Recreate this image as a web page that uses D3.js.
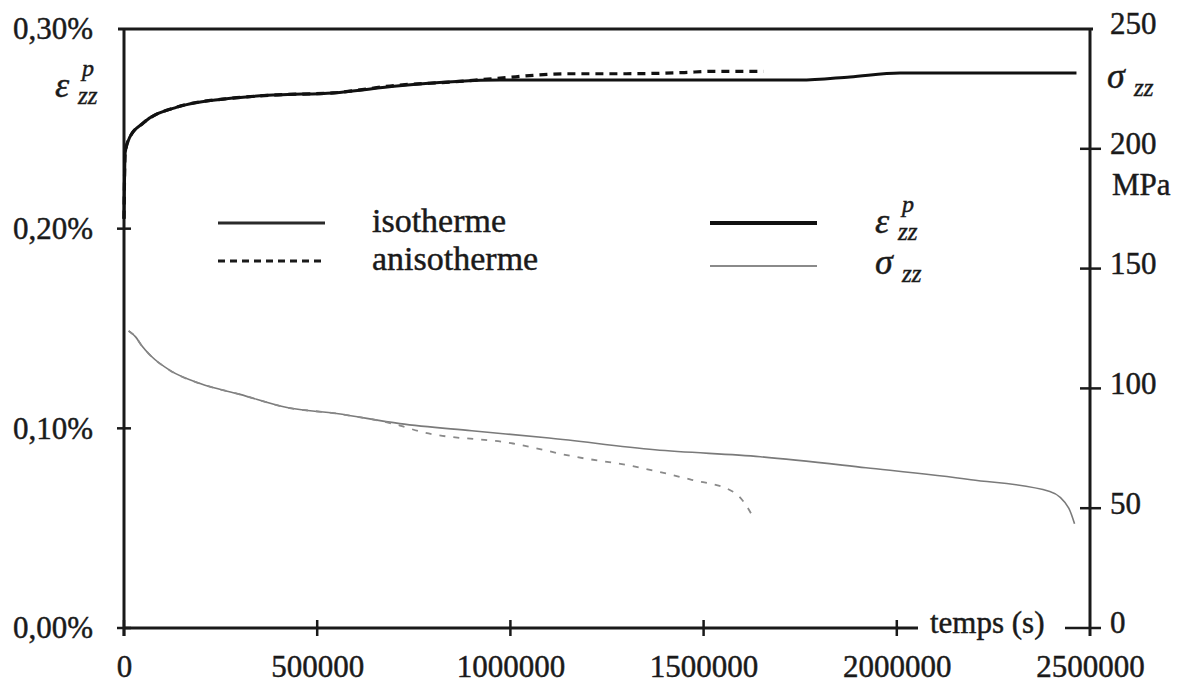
<!DOCTYPE html>
<meta charset="utf-8">
<script src="https://cdn.jsdelivr.net/npm/d3@7"></script>
<style>
  body { margin: 0; background: #fff; }
  svg text {
    font-family: "Liberation Serif", "Times New Roman", "DejaVu Serif", serif;
    fill: #1a1a1a;
    stroke: #1a1a1a;
    stroke-width: 0.45px;
  }
</style>
<div id="chart"></div>
<script>

  // time axis (s)
  var timeTicks = [0, 500000, 1000000, 1500000, 2000000, 2500000];
  var strainTicks = [0, 0.10, 0.20, 0.30];      // %
  var stressTicks = [0, 50, 100, 150, 200, 250]; // MPa

  // plastic strain eps_zz^p (%) - isotherme
  var tIsoStrain = [0, 3000, 15000, 49000, 137000, 282000, 396000, 541000, 706000, 973000, 1300000, 1749000, 1879000, 2008000, 2465000];
  var isoStrain = [0.205, 0.238, 0.2458, 0.2528, 0.2609, 0.2654, 0.267, 0.268, 0.2714, 0.2744, 0.2744, 0.2744, 0.276, 0.278, 0.278];

  // plastic strain (%) - anisotherme
  var tAniStrain = [0, 3000, 15000, 49000, 137000, 282000, 396000, 541000, 706000, 850000, 960000, 1150000, 1300000, 1450000, 1520000, 1655000];
  var aniStrain = [0.205, 0.238, 0.2458, 0.2528, 0.2609, 0.2654, 0.267, 0.268, 0.2718, 0.2735, 0.2752, 0.2776, 0.2776, 0.2782, 0.2788, 0.2788];

  // stress sigma_zz (MPa) - isotherme
  var tIsoStress = [12000, 30000, 45000, 70000, 119000, 197000, 300000, 422000, 550000, 714000, 900000, 1100000, 1374000, 1647000, 1920000, 2192000, 2396000, 2445000, 2460000];
  var isoStress = [124, 121.5, 118, 113.5, 107.5, 102, 97.5, 92, 89.5, 85.3, 82.3, 79.3, 74.4, 71.5, 66.9, 61.9, 57, 50, 43.5];

  // stress (MPa) - anisotherme
  var tAniStress = [12000, 30000, 45000, 70000, 119000, 197000, 300000, 422000, 550000, 714000, 766000, 1007000, 1166000, 1311000, 1465000, 1575000, 1611000, 1632000];
  var aniStress = [124, 121.5, 118, 113.5, 107.5, 102, 97.5, 92, 89.5, 84.5, 82, 77, 71.5, 67.7, 62, 57, 51, 45];

  var W = 1185, H = 686;
  var fs = 31;

  var svg = d3.select("#chart").append("svg")
    .attr("width", W)
    .attr("height", H);

  var x = d3.scaleLinear().domain([0, 2500000]).range([124, 1090]);
  var yL = d3.scaleLinear().domain([0, 0.30]).range([628, 29]);
  var yR = d3.scaleLinear().domain([0, 250]).range([628, 29]);

  var fr = d3.formatLocale({ decimal: ",", thousands: "", grouping: [3], currency: ["", ""] });
  var pct = fr.format(".2f");

  // axes (labels only, the lines are drawn below)
  var axL = svg.append("g").attr("transform", "translate(124,0)")
    .call(d3.axisLeft(yL).tickValues(strainTicks).tickSize(0).tickPadding(31)
      .tickFormat(function (d) { return pct(d) + "%"; }));
  var axR = svg.append("g").attr("transform", "translate(1090,0)")
    .call(d3.axisRight(yR).tickValues(stressTicks).tickSize(0).tickPadding(20));
  var axB = svg.append("g").attr("transform", "translate(0,628)")
    .call(d3.axisBottom(x).tickValues(timeTicks).tickSize(0).tickPadding(27)
      .tickFormat(d3.format("d")));

  svg.selectAll(".domain").remove();
  svg.selectAll(".tick text")
    .attr("font-size", fs)
    .attr("fill", "#1a1a1a");
  axR.selectAll(".tick text").attr("dy", "0.16em");

  var ink = "#1a1a1a";

  // frame lines
  svg.append("line").attr("x1", 118).attr("x2", 1093).attr("y1", yL(0.30)).attr("y2", yL(0.30))
    .attr("stroke", ink).attr("stroke-width", 3);
  svg.append("line").attr("x1", x(0)).attr("x2", x(0)).attr("y1", 29).attr("y2", 636)
    .attr("stroke", ink).attr("stroke-width", 3);
  svg.append("line").attr("x1", x(2500000)).attr("x2", x(2500000)).attr("y1", 29).attr("y2", 636)
    .attr("stroke", ink).attr("stroke-width", 3);
  svg.append("line").attr("x1", x(0)).attr("x2", 918).attr("y1", yL(0)).attr("y2", yL(0))
    .attr("stroke", ink).attr("stroke-width", 3);

  // cross ticks
  svg.append("g").selectAll("line")
    .data(strainTicks.slice(0, 3))
    .enter().append("line")
    .attr("x1", 117).attr("x2", 131)
    .attr("y1", function (d) { return yL(d); }).attr("y2", function (d) { return yL(d); })
    .attr("stroke", ink).attr("stroke-width", 2.5);

  svg.append("g").selectAll("line")
    .data(timeTicks.slice(0, 5))
    .enter().append("line")
    .attr("x1", function (d) { return x(d); }).attr("x2", function (d) { return x(d); })
    .attr("y1", 620).attr("y2", 636)
    .attr("stroke", ink).attr("stroke-width", 2.5);

  svg.append("g").selectAll("line")
    .data(stressTicks.slice(0, 5))
    .enter().append("line")
    .attr("x1", function (d) { return d === 0 ? 1065 : 1080; }).attr("x2", 1101)
    .attr("y1", function (d) { return yR(d); }).attr("y2", function (d) { return yR(d); })
    .attr("stroke", ink).attr("stroke-width", 2.5);

  // curves
  function pts(t, v) { return t.map(function (d, i) { return [d, v[i]]; }); }

  var lineL = d3.line()
    .x(function (d) { return x(d[0]); })
    .y(function (d) { return yL(d[1]); })
    .curve(d3.curveMonotoneX);
  var lineR = d3.line()
    .x(function (d) { return x(d[0]); })
    .y(function (d) { return yR(d[1]); })
    .curve(d3.curveMonotoneX);

  svg.append("path").datum(pts(tIsoStress, isoStress))
    .attr("d", lineR).attr("fill", "none")
    .attr("stroke", "#7a7a7a").attr("stroke-width", 1.6);
  svg.append("path").datum(pts(tAniStress, aniStress))
    .attr("d", lineR).attr("fill", "none")
    .attr("stroke", "#8a8a8a").attr("stroke-width", 1.8)
    .attr("stroke-dasharray", "6,8");

  svg.append("path").datum(pts(tAniStrain, aniStrain))
    .attr("d", lineL).attr("fill", "none")
    .attr("stroke", "#111").attr("stroke-width", 3.2)
    .attr("stroke-dasharray", "8,6");
  svg.append("path").datum(pts(tIsoStrain, isoStrain))
    .attr("d", lineL).attr("fill", "none")
    .attr("stroke", "#111").attr("stroke-width", 3);

  // legend
  var legend = [
    { x1: 218, x2: 325, y: 223, w: 3, c: "#2a2a2a", dash: null, label: "isotherme", ly: 232 },
    { x1: 218, x2: 325, y: 261, w: 3, c: "#1a1a1a", dash: "7,5", label: "anisotherme", ly: 270 },
    { x1: 710, x2: 817, y: 223, w: 4, c: "#111", dash: null },
    { x1: 710, x2: 817, y: 266, w: 2, c: "#8a8a8a", dash: null }
  ];
  svg.append("g").selectAll("line")
    .data(legend)
    .enter().append("line")
    .attr("x1", function (d) { return d.x1; }).attr("x2", function (d) { return d.x2; })
    .attr("y1", function (d) { return d.y; }).attr("y2", function (d) { return d.y; })
    .attr("stroke", function (d) { return d.c; })
    .attr("stroke-width", function (d) { return d.w; })
    .attr("stroke-dasharray", function (d) { return d.dash; });
  svg.append("g").selectAll("text")
    .data(legend.filter(function (d) { return d.label; }))
    .enter().append("text")
    .attr("x", 372).attr("y", function (d) { return d.ly; })
    .attr("font-size", 34)
    .text(function (d) { return d.label; });

  // symbols
  function eps(x0, yb) {
    var g = svg.append("g");
    g.append("text").attr("x", x0).attr("y", yb).attr("font-size", 36).attr("font-style", "italic").text("ε");
    g.append("text").attr("x", x0 + 27).attr("y", yb - 21).attr("font-size", 24).attr("font-style", "italic").text("p");
    g.append("text").attr("x", x0 + 23).attr("y", yb + 7).attr("font-size", 25).attr("font-style", "italic").text("zz");
  }
  function sig(x0, yb) {
    var g = svg.append("g");
    g.append("text").attr("x", x0).attr("y", yb).attr("font-size", 36).attr("font-style", "italic").text("σ");
    g.append("text").attr("x", x0 + 27).attr("y", yb + 8).attr("font-size", 25).attr("font-style", "italic").text("zz");
  }
  eps(55, 97);
  sig(1107, 88);
  eps(875, 233);
  sig(875, 274);

  svg.append("text").attr("x", 1112).attr("y", 195).attr("font-size", fs).text("MPa");
  svg.append("text").attr("x", 930).attr("y", 633).attr("font-size", fs).text("temps (s)");

</script>
